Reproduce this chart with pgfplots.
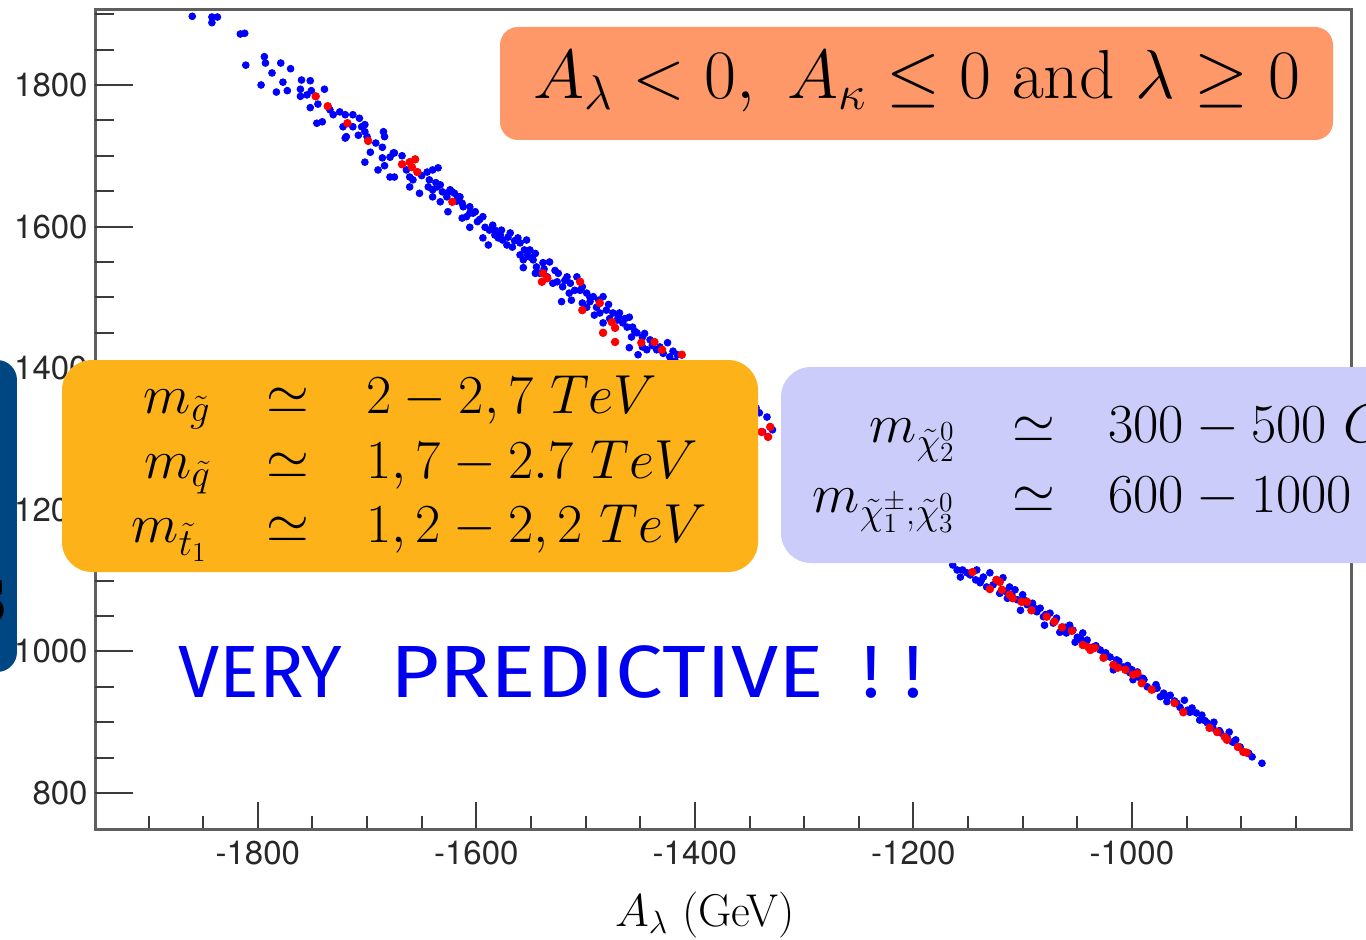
\documentclass[border=0pt]{standalone}
\usepackage{fix-cm}
\usepackage{fontspec}
\usepackage{pgfplots}
\pgfplotsset{compat=1.18}
\newfontfamily\helv{TeX Gyre Heros}
\newfontfamily\hand{Fira Sans}
\definecolor{ptblue}{RGB}{0,0,255}
\definecolor{ptred}{RGB}{255,0,0}
\definecolor{axisgray}{RGB}{95,95,95}
\definecolor{tickgray}{RGB}{60,60,60}
\definecolor{labelgray}{RGB}{40,40,40}
\definecolor{orangebox}{RGB}{254,152,104}
\definecolor{yellowbox}{RGB}{253,178,26}
\definecolor{lavbox}{RGB}{204,204,250}
\definecolor{dkblue}{RGB}{0,70,130}
\definecolor{handblue}{RGB}{0,0,240}

\pgfplotstableread{
x y
-1860 1897
-1842 1896
-1842 1888
-1837 1896
-1816 1872
-1812 1873
-1811 1828
-1794 1840
-1793 1831
-1779 1831
-1770 1823
-1787 1817
-1797 1800
-1777 1804
-1783 1790
-1773 1792
-1760 1807
-1752 1806
-1761 1794
-1761 1784
-1755 1786
-1751 1792
-1739 1794
-1752 1768
-1745 1773
-1734 1765
-1731 1758
-1725 1762
-1720 1758
-1713 1758
-1707 1753
-1713 1741
-1746 1746
-1741 1748
-1722 1741
-1705 1741
-1702 1734
-1708 1729
-1700 1727
-1702 1744
-1720 1725
-1719 1727
-1685 1734
-1684 1727
-1686 1712
-1676 1704
-1675 1704
-1697 1705
-1702 1691
-1686 1697
-1679 1698
-1684 1686
-1690 1680
-1679 1670
-1675 1670
-1664 1680
-1661 1670
-1658 1666
-1661 1656
-1652 1647
-1645 1677
-1640 1680
-1635 1683
-1643 1666
-1644 1656
-1640 1652
-1633 1659
-1631 1649
-1627 1642
-1640 1642
-1633 1635
-1626 1621
-1622 1649
-1617 1642
-1613 1633
-1606 1628
-1603 1619
-1609 1614
-1636 1656
-1627 1647
-1624 1652
-1620 1647
-1615 1642
-1612 1628
-1613 1612
-1606 1619
-1601 1621
-1606 1599
-1599 1607
-1594 1614
-1592 1599
-1588 1595
-1594 1584
-1589 1574
-1583 1595
-1577 1595
-1580 1584
-1576 1581
-1569 1591
-1572 1574
-1567 1571
-1562 1584
-1560 1577
-1554 1581
-1556 1567
-1551 1567
-1557 1553
-1551 1557
-1548 1553
-1545 1543
-1539 1549
-1533 1550
-1542 1534
-1557 1542
-1535 1529
-1530 1520
-1525 1534
-1526 1522
-1521 1515
-1517 1529
-1514 1520
-1508 1529
-1510 1510
-1522 1494
-1513 1496
-1503 1515
-1499 1506
-1493 1501
-1503 1492
-1499 1486
-1496 1494
-1490 1486
-1484 1501
-1487 1478
-1481 1482
-1475 1478
-1471 1468
-1492 1475
-1484 1464
-1469 1478
-1466 1464
-1460 1472
-1462 1458
-1457 1458
-1453 1450
-1458 1444
-1448 1444
-1460 1429
-1448 1430
-1441 1440
-1444 1426
-1435 1426
-1429 1421
-1425 1436
-1423 1416
-1416 1419
-1452 1419
-1692 1718
-1668 1700
-1650 1672
-1637 1662
-1618 1636
-1597 1610
-1585 1602
-1578 1588
-1565 1580
-1553 1560
-1546 1562
-1538 1540
-1528 1538
-1519 1524
-1505 1510
-1496 1500
-1488 1496
-1479 1490
-1470 1472
-1464 1470
-1455 1452
-1446 1449
-1439 1432
-1432 1430
-1420 1424
-1418 1410
-1583 1588
-1571 1585
-1560 1560
-1546 1534
-1515 1506
-1478 1470
-1405 1405
-1395 1397
-1386 1386
-1377 1376
-1368 1369
-1359 1362
-1350 1351
-1344 1344
-1341 1337
-1334 1331
-1331 1317
-1338 1310
-1329 1313
-1333 1303
-1313 1292
-1295 1270
-1276 1249
-1258 1228
-1240 1207
-1222 1186
-1203 1164
-1185 1143
-1164 1122
-1155 1115
-1151 1111
-1142 1115
-1136 1105
-1139 1097
-1130 1111
-1124 1101
-1133 1091
-1118 1104
-1121 1082
-1112 1091
-1114 1075
-1107 1087
-1105 1073
-1100 1080
-1096 1066
-1091 1068
-1087 1056
-1084 1061
-1081 1049
-1075 1054
-1072 1040
-1069 1047
-1063 1034
-1057 1037
-1060 1026
-1050 1020
-1045 1026
-1041 1016
-1036 1006
-1029 1002
-1045 1012
-1020 992
-1017 974
-1008 978
-1002 970
-995 971
-999 960
-986 950
-981 946
-974 936
-965 938
-968 929
-959 927
-956 921
-947 914
-941 913
-938 903
-931 899
-926 892
-919 885
-913 879
-908 872
-901 865
-895 857
-890 851
-881 842
-1025 995
-1014 988
-1004 980
-993 963
-989 960
-978 953
-971 941
-952 931
-945 920
-936 910
-925 900
-911 886
-905 875
-1157 1105
-1143 1101
-1102 1058
-1080 1037
-1066 1027
-1052 1013
-1160 1115
-1148 1108
-1138 1100
-1127 1094
-1116 1085
-1110 1080
-1098 1072
-1090 1062
-1079 1052
-1070 1044
-1061 1034
-1054 1030
-1047 1018
-1033 1008
-1024 998
-1012 986
-1000 974
-990 962
-977 948
-969 937
-961 930
-949 917
-933 902
-920 888
-907 872
-893 856
}\bluedata

\pgfplotstableread{
x y
-1747 1784
-1736 1770
-1718 1746
-1699 1721
-1668 1688
-1661 1691
-1656 1695
-1654 1677
-1659 1684
-1622 1635
-1539 1534
-1535 1527
-1540 1522
-1505 1522
-1487 1492
-1503 1482
-1476 1465
-1473 1457
-1484 1450
-1473 1437
-1449 1436
-1437 1437
-1430 1426
-1412 1419
-1331 1317
-1339 1310
-1333 1303
-1146 1112
-1130 1088
-1124 1101
-1121 1098
-1119 1087
-1112 1080
-1109 1075
-1101 1070
-1096 1070
-1092 1058
-1078 1049
-1071 1042
-1064 1034
-1055 1029
-1045 1009
-1040 1006
-1034 1005
-1038 1002
-1026 991
-1017 981
-1013 977
-1006 974
-999 967
-995 969
-991 955
-982 946
-961 927
-953 914
-929 892
-922 886
-915 879
-913 875
-903 865
-898 858
-895 857
}\reddata

\begin{document}
\begin{tikzpicture}
\begin{scope}
\clip (-47.5pt,-54.85pt) rectangle (635.5pt,414.65pt);
\begin{axis}[
  scale only axis, width=628pt, height=410pt,
  xmin=-1949, xmax=-799.5, ymin=748.7, ymax=1906.9,
  axis line style={draw=axisgray, line width=1.5pt},
  xtick={-1800,-1600,-1400,-1200,-1000},
  minor xtick={-1900,-1850,-1750,-1700,-1650,-1550,-1500,-1450,-1350,-1300,-1250,-1150,-1100,-1050,-950,-900,-850},
  ytick=\empty,
  xtick pos=left, tick align=inside,
  major tick length=13.5pt, minor tick length=6.5pt,
  tick style={draw=tickgray, line width=1pt},
  /pgf/number format/assume math mode=true,
  /pgf/number format/1000 sep={},
  xticklabel style={font=\helv\fontsize{16.5}{18}\selectfont, text=labelgray, inner sep=0pt, yshift=-5.5pt},
  xlabel={$A_\lambda$ (GeV)},
  every axis x label/.style={at={(axis description cs:0.4857,0)}, anchor=center, yshift=-43pt, font=\fontsize{23}{26}\selectfont},
]
\addplot[ptblue, only marks, mark=*, mark size=1.7pt] table[x=x,y=y] {\bluedata};
\addplot[ptred, only marks, mark=*, mark size=1.9pt] table[x=x,y=y] {\reddata};
\end{axis}
\begin{axis}[
  scale only axis, width=628pt, height=410pt,
  xmin=-1949, xmax=-799.5, ymin=748.7, ymax=1906.9,
  axis line style={draw=none},
  xtick=\empty,
  ytick={800,1000,1200,1400,1600,1800},
  minor ytick={850,900,950,1050,1100,1150,1250,1300,1350,1450,1500,1550,1650,1700,1750,1850,1900},
  ytick pos=left, tick align=inside,
  major tick length=19pt, minor tick length=9.5pt,
  tick style={draw=tickgray, line width=1pt},
  /pgf/number format/assume math mode=true,
  /pgf/number format/1000 sep={},
  yticklabel style={font=\helv\fontsize{16.5}{18}\selectfont, text=labelgray, inner sep=0pt, xshift=-3.5pt},
]
\end{axis}
\begin{scope}[shift={(-47.5pt,414.65pt)}, x=0.5pt, y=-0.5pt]
\fill[dkblue, rounded corners=10pt] (-60,360) rectangle (17,672);
\node[anchor=base east, inner sep=0pt, font=\fontsize{30}{34}\selectfont\bfseries] at (8,622) {S};
\fill[orangebox, rounded corners=9pt] (500,27) rectangle (1333,140);
\node[anchor=base, inner sep=0pt, font=\fontsize{34.7}{40}\selectfont] at (916.5,99) {$A_\lambda<0,\ A_\kappa\le 0$ and $\lambda\ge 0$};
\fill[yellowbox, rounded corners=15pt] (62,360) rectangle (758,572);
\begin{scope}[every node/.style={inner sep=0pt, font=\fontsize{27.5}{30}\selectfont}]
\node[anchor=base east] at (211,413) {$m_{\tilde g}$};
\node[anchor=base] at (288,413) {$\simeq$};
\node[anchor=base west] at (366,413) {$2-2,7\ TeV$};
\node[anchor=base east] at (211,478) {$m_{\tilde q}$};
\node[anchor=base] at (288,478) {$\simeq$};
\node[anchor=base west] at (366,478) {$1,7-2.7\ TeV$};
\node[anchor=base east] at (208,542) {$m_{\tilde t_1}$};
\node[anchor=base] at (288,542) {$\simeq$};
\node[anchor=base west] at (366,542) {$1,2-2,2\ TeV$};
\end{scope}
\fill[lavbox, rounded corners=15pt] (781,367) rectangle (1420,563);
\begin{scope}[every node/.style={inner sep=0pt, font=\fontsize{27.5}{30}\selectfont}]
\node[anchor=base east] at (956,442) {$m_{\tilde\chi^0_2}$};
\node[anchor=base] at (1034,442) {$\simeq$};
\node[anchor=base west] at (1108,442) {$300-500\ GeV$};
\node[anchor=base east] at (955,512) {$m_{\tilde\chi^\pm_1;\tilde\chi^0_3}$};
\node[anchor=base] at (1034,512) {$\simeq$};
\node[anchor=base west] at (1108,512) {$600-1000\ GeV$};
\end{scope}
\begin{scope}[every node/.style={inner sep=0pt, text=handblue, font=\hand\fontsize{37}{40}\selectfont}]
\node[anchor=base west] at (178,697) {VERY};
\node[anchor=base west] at (390,697) {\scalebox{1.145}[1]{PREDICTIVE}};
\node[anchor=base west] at (862,697) {!\,\,!};
\end{scope}
\end{scope}
\end{scope}
\pgfresetboundingbox
\useasboundingbox (-47.5pt,-54.85pt) rectangle (635.5pt,414.65pt);
\end{tikzpicture}
\end{document}
